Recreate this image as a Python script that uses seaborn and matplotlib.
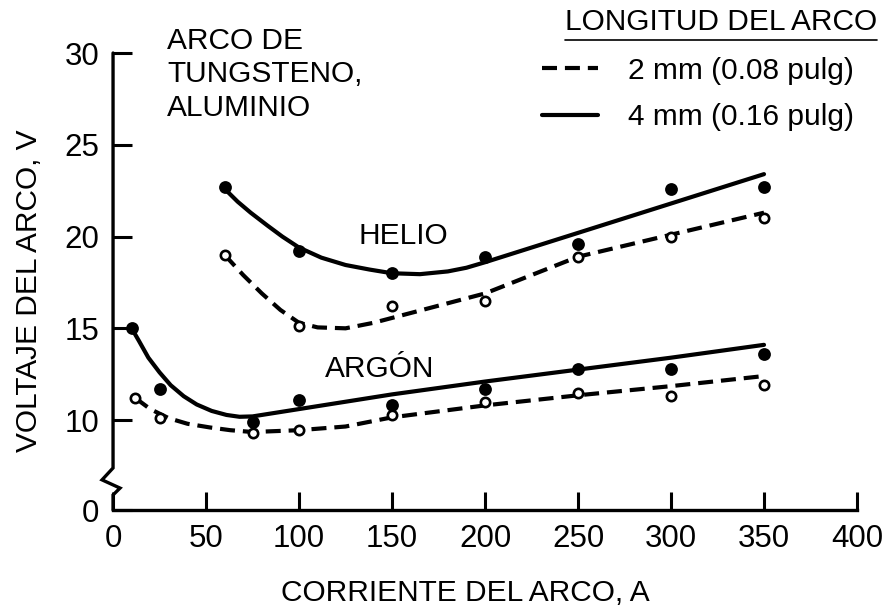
import numpy as np
import matplotlib
matplotlib.use('Agg')
import matplotlib.pyplot as plt
from matplotlib.lines import Line2D
import seaborn as sns

# Datos: voltaje del arco vs corriente
# puntos medidos
helio_4mm_x = [60, 100, 150, 200, 250, 300, 350]
helio_4mm_y = [22.7, 19.2, 18.0, 18.9, 19.6, 22.6, 22.7]
helio_2mm_x = [60, 100, 150, 200, 250, 300, 350]
helio_2mm_y = [19.0, 15.1, 16.2, 16.5, 18.9, 20.0, 21.0]
argon_4mm_x = [10, 25, 75, 100, 150, 200, 250, 300, 350]
argon_4mm_y = [15.0, 11.7, 9.9, 11.1, 10.8, 11.7, 12.8, 12.8, 13.6]
argon_2mm_x = [12, 25, 75, 100, 150, 200, 250, 300, 350]
argon_2mm_y = [11.2, 10.1, 9.3, 9.45, 10.3, 11.0, 11.5, 11.3, 11.9]

# curvas ajustadas (trazadas a mano en el original)
curva_helio_4mm_x = [60, 67, 74, 83, 91, 100, 112, 125, 138, 150, 165, 180, 190, 200, 250, 300, 350]
curva_helio_4mm_y = [22.6, 21.9, 21.3, 20.6, 20.0, 19.4, 18.85, 18.45, 18.2, 18.0, 17.95, 18.1, 18.3, 18.6,
                     20.2, 21.8, 23.4]
curva_helio_2mm_x = [60, 70, 80, 90, 100, 110, 125, 140, 155, 170, 185, 200, 250, 300, 350]
curva_helio_2mm_y = [19.0, 17.9, 16.9, 16.0, 15.3, 15.05, 15.0, 15.3, 15.7, 16.1, 16.5, 16.9, 18.9, 20.1, 21.3]
curva_argon_4mm_x = [10, 14, 19, 25, 31, 38, 45, 53, 61, 68, 75, 100, 150, 200, 250, 300, 350]
curva_argon_4mm_y = [15.0, 14.3, 13.4, 12.6, 11.9, 11.3, 10.85, 10.5, 10.28, 10.18, 10.2, 10.6, 11.4, 12.1,
                     12.75, 13.4, 14.1]
curva_argon_2mm_x = [12, 20, 30, 40, 52, 63, 75, 100, 125, 150, 200, 250, 300, 350]
curva_argon_2mm_y = [11.2, 10.6, 10.1, 9.8, 9.6, 9.45, 9.35, 9.45, 9.65, 10.15, 10.8, 11.35, 11.85, 12.4]

x_ticks = [0, 50, 100, 150, 200, 250, 300, 350, 400]
y_ticks = [0, 10, 15, 20, 25, 30]

sns.set_style('ticks')
plt.rcParams['font.family'] = ['Liberation Sans', 'DejaVu Sans']
plt.rcParams['text.color'] = 'black'
plt.rcParams['axes.labelcolor'] = 'black'
FS = 21.5

fig = plt.figure(figsize=(8.88, 6.10), dpi=100)
ax = fig.add_axes([0.1273, 0.1639, 0.8378, 0.7492])


# eje Y con corte entre 0 y 10
def fwd(y):
    y = np.asarray(y, dtype=float)
    return np.where(y >= 8, y, 8 - (8 - y) * 0.3625)


def inv(y):
    y = np.asarray(y, dtype=float)
    return np.where(y >= 8, y, 8 - (8 - y) / 0.3625)


ax.set_yscale('function', functions=(fwd, inv))

dash = (0, (3.6, 1.9))
lw = 3

sns.lineplot(x=curva_helio_4mm_x, y=curva_helio_4mm_y, ax=ax, color='black', lw=lw,
             sort=False, estimator=None, zorder=2)
sns.lineplot(x=curva_helio_2mm_x, y=curva_helio_2mm_y, ax=ax, color='black', lw=lw,
             linestyle=dash, sort=False, estimator=None, zorder=2)
sns.lineplot(x=curva_argon_4mm_x, y=curva_argon_4mm_y, ax=ax, color='black', lw=lw,
             sort=False, estimator=None, zorder=2)
sns.lineplot(x=curva_argon_2mm_x, y=curva_argon_2mm_y, ax=ax, color='black', lw=lw,
             linestyle=dash, sort=False, estimator=None, zorder=2)

sns.scatterplot(x=helio_4mm_x, y=helio_4mm_y, ax=ax, color='black', s=85, linewidth=0, zorder=3)
sns.scatterplot(x=argon_4mm_x, y=argon_4mm_y, ax=ax, color='black', s=85, linewidth=0, zorder=3)
sns.scatterplot(x=helio_2mm_x, y=helio_2mm_y, ax=ax, color='white', edgecolor='black',
                s=45, linewidth=1.9, zorder=3)
sns.scatterplot(x=argon_2mm_x, y=argon_2mm_y, ax=ax, color='white', edgecolor='black',
                s=45, linewidth=1.9, zorder=3)

ax.set_xlim(0, 400)
ax.set_ylim(0, 30)
ax.set_xticks(x_ticks)
ax.set_xticklabels([str(v) for v in x_ticks])
ax.set_yticks(y_ticks)
ax.set_yticklabels([str(v) for v in y_ticks])
ax.tick_params(axis='both', direction='in', width=2.2, labelsize=22.5, colors='black')
ax.tick_params(axis='y', length=14, pad=10)
ax.tick_params(axis='x', length=13, pad=10)

for s in ['top', 'right', 'left']:
    ax.spines[s].set_visible(False)
ax.spines['bottom'].set_linewidth(2.4)
ax.spines['bottom'].set_color('black')

# linea del eje Y con el simbolo de corte
ax.plot([0, 0, -0.0148, 0.0094, 0, 0], [1, 0.092, 0.066, 0.048, 0.033, 0],
        transform=ax.transAxes, color='black', lw=2.4, clip_on=False,
        solid_joinstyle='miter', zorder=4)

ax.set_xlabel('CORRIENTE DEL ARCO, A', fontsize=FS)
ax.set_ylabel('VOLTAJE DEL ARCO, V', fontsize=FS)
ax.xaxis.set_label_coords(0.473, -0.152)
ax.yaxis.set_label_coords(-0.094, 0.479)

ax.text(0.0725, 1.058, 'ARCO DE\nTUNGSTENO,\nALUMINIO', transform=ax.transAxes,
        fontsize=FS, ha='left', va='top', linespacing=1.25)
ax.text(156, 20.05, 'HELIO', fontsize=FS, ha='center', va='center')
ax.text(143.5, 12.8, 'ARGÓN', fontsize=FS, ha='center', va='center')

# leyenda
ax.text(0.817, 1.068, 'LONGITUD DEL ARCO', transform=ax.transAxes, fontsize=FS,
        ha='center', va='center')
ax.plot([0.607, 1.027], [1.028, 1.028], transform=ax.transAxes, color='black',
        lw=1.2, clip_on=False)
handles = [Line2D([], [], color='black', lw=lw, linestyle=dash),
           Line2D([], [], color='black', lw=lw)]
ax.legend(handles, ['2 mm (0.08 pulg)', '4 mm (0.16 pulg)'], loc='upper left',
          bbox_to_anchor=(0.576, 0.992), frameon=False, fontsize=FS,
          handlelength=1.9, handletextpad=1.0, labelspacing=0.62,
          borderpad=0, borderaxespad=0)

fig.savefig('out.png', dpi=100)
